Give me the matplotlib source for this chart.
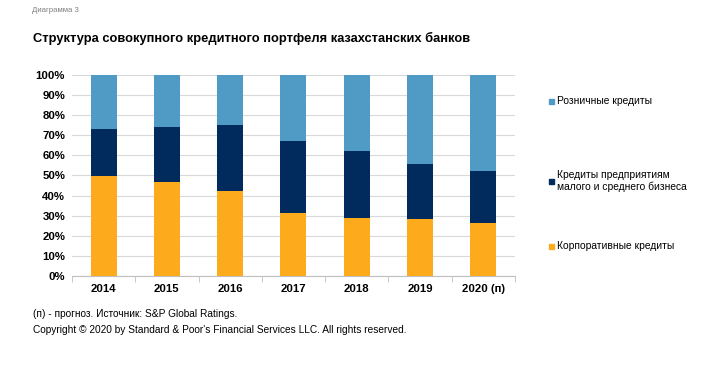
import matplotlib.pyplot as plt
from matplotlib.patches import Rectangle
import numpy as np

plt.rcParams['font.family'] = ['Liberation Sans', 'DejaVu Sans']

# данные
years = ['2014', '2015', '2016', '2017', '2018', '2019', '2020 (п)']
corporate = [49.6, 46.8, 42.3, 31.5, 28.7, 28.2, 26.2]
sme = [23.4, 27.3, 32.7, 35.5, 33.6, 27.4, 26.2]
retail = [27.0, 25.9, 25.0, 33.0, 37.7, 44.4, 47.6]

labels = ['Розничные кредиты',
          'Кредиты предприятиям\nмалого и среднего бизнеса',
          'Корпоративные кредиты']
colors = ['#4f9bc5', '#012b5c', '#fdab1c']

fig = plt.figure(figsize=(7.2, 3.67), dpi=100)
ax = fig.add_axes([0.1, 0.248, 0.615, 0.548])

x = np.arange(len(years))
w = 0.41
b1 = np.array(corporate)
b2 = b1 + np.array(sme)
ax.bar(x, corporate, w, color=colors[2], zorder=3)
ax.bar(x, sme, w, bottom=b1, color=colors[1], zorder=3)
ax.bar(x, retail, w, bottom=b2, color=colors[0], zorder=3)

ax.set_xlim(-0.5, len(years) - 0.5)
ax.set_ylim(0, 100)
ax.set_yticks(np.arange(0, 101, 10))
ax.set_yticklabels([f'{v}%' for v in range(0, 101, 10)])
ax.yaxis.grid(True, color='#d9d9d9', lw=0.8, zorder=0)
for s in ['top', 'right', 'left']:
    ax.spines[s].set_visible(False)
ax.spines['bottom'].set_color('#bfbfbf')
ax.tick_params(axis='y', length=0, pad=5, labelsize=8.2)
ax.set_xticks(x)
ax.set_xticklabels(years)
ax.tick_params(axis='x', length=0, pad=6, labelsize=8.2)
for lab in ax.get_xticklabels() + ax.get_yticklabels():
    lab.set_fontweight('bold')
# засечки между категориями
ax.set_xticks(np.arange(-0.5, len(years), 1), minor=True)
ax.tick_params(axis='x', which='minor', length=4, color='#bfbfbf')

# легенда вручную
leg_y = [101, 181, 246]
for lab, col, yy in zip(labels, colors, leg_y):
    yf = 1 - yy / 367
    fig.patches.append(Rectangle((549 / 720, yf - 2.5 / 367), 5 / 720, 5 / 367,
                                 transform=fig.transFigure, color=col))
    fig.text(557 / 720, yf, lab, fontsize=7.4, va='center', ha='left', linespacing=1.15)

fig.text(32 / 720, 1 - 10 / 367, 'Диаграмма 3', fontsize=5.6, color='#808080', va='center')
fig.text(33 / 720, 1 - 38 / 367, 'Структура совокупного кредитного портфеля казахстанских банков',
         fontsize=9.3, fontweight='bold', va='center')
fig.text(33 / 720, 1 - 314 / 367, '(п) - прогноз. Источник: S&P Global Ratings.',
         fontsize=7.3, va='center')
fig.text(33 / 720, 1 - 330 / 367,
         "Copyright © 2020 by Standard & Poor's Financial Services LLC. All rights reserved.",
         fontsize=7.3, va='center')

fig.savefig('out.png', dpi=100)
